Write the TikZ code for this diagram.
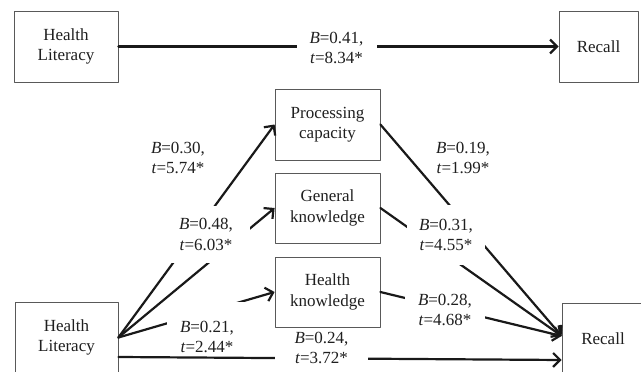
\documentclass[tikz,border=0pt]{standalone}
\usepackage{fontspec}
\setmainfont{Liberation Serif}
\usetikzlibrary{arrows.meta}
\definecolor{boxline}{rgb}{0.35,0.35,0.35}
\definecolor{txtcol}{rgb}{0.12,0.12,0.12}

\begin{document}
\begin{tikzpicture}[line cap=round,line join=round,x=1pt,y=-1pt,
		varbox/.style={draw=boxline,line width=0.8pt,minimum height=71pt,inner sep=0pt,align=center,text=txtcol,font=\fontsize{17}{20.5}\selectfont},
		coef/.style={fill=white,inner sep=0pt,minimum width=80pt,minimum height=58pt,align=center,text=txtcol,font=\fontsize{17}{20.5}\selectfont},
		link/.style={line width=2.2pt,color=black!90,-{Straight Barb[length=7pt,width=14pt]}}]
		\useasboundingbox (0,0) rectangle (641,372);
		% total effect
		\node[varbox,minimum width=104pt] (hlTop) at (66,46.5) {Health\\Literacy};
		\node[varbox,minimum width=79pt] (recTop) at (598.5,46.5) {Recall};
		% mediation model
		\node[varbox,minimum width=103pt] (hlBot) at (66.5,337.5) {Health\\Literacy};
		\node[varbox,minimum width=82pt] (recBot) at (603,338.5) {Recall};
		\node[varbox,minimum width=105pt] (proc) at (327.5,124.5) {Processing\\capacity};
		\node[varbox,minimum width=105pt,minimum height=70pt] (gen) at (327.5,208) {General\\knowledge};
		\node[varbox,minimum width=105pt,minimum height=70pt] (hk) at (327.5,292) {Health\\knowledge};
		\draw[link] (hlBot.east) -- (proc.west);
		\draw[link] (hlBot.east) -- (gen.west);
		\draw[link] (hlBot.east) -- (hk.west);
		\draw[link] (proc.east) -- ([yshift=2.5pt]recBot.west);
		\draw[link] (gen.east) -- ([yshift=2.5pt]recBot.west);
		\draw[link] (hk.east) -- ([yshift=2.5pt]recBot.west);
		\node[coef,minimum width=88pt,minimum height=57pt] (b48) at (206,234.5) {\textit{B}=0.48,\\\textit{t}=6.03*};
		\node[coef,minimum height=70pt] (b21) at (207,337) {\textit{B}=0.21,\\\textit{t}=2.44*};
		\node[coef,minimum width=78pt,minimum height=60pt] (b31) at (446,235) {\textit{B}=0.31,\\\textit{t}=4.55*};
		\node[coef,minimum height=50pt] (b28) at (445,310) {\textit{B}=0.28,\\\textit{t}=4.68*};
		\node[coef,fill=none] (b30) at (178,158) {\textit{B}=0.30,\\\textit{t}=5.74*};
		\node[coef,fill=none] (b19) at (463,158) {\textit{B}=0.19,\\\textit{t}=1.99*};
		\draw[link] ([yshift=-19.5pt]hlBot.east) -- ([yshift=-21.5pt]recBot.west);
		\node[coef,minimum width=93pt,minimum height=38pt] (b24) at (321.5,348) {\textit{B}=0.24,\\\textit{t}=3.72*};
		\draw[link] (hlTop.east) -- (recTop.west);
		\node[coef] (b41) at (336.5,48) {\textit{B}=0.41,\\\textit{t}=8.34*};
	\end{tikzpicture}
\end{document}
